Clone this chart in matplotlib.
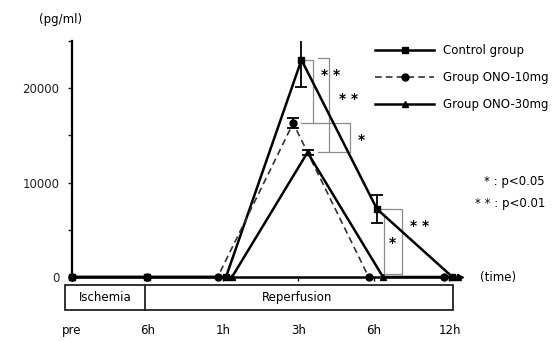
import matplotlib.pyplot as plt
from matplotlib.patches import Rectangle
from matplotlib.lines import Line2D

# time points and serum levels (pg/ml)
times = ["pre", "6h", "1h", "3h", "6h", "12h"]
control = [0, 0, 0, 23000, 7200, 0]
control_err = [0, 0, 0, 2900, 1450, 0]
ono10 = [0, 0, 0, 16300, 0, 0]
ono10_err = [0, 0, 0, 500, 0, 0]
ono30 = [0, 0, 0, 13200, 0, 0]
ono30_err = [0, 0, 0, 300, 0, 0]

plt.rcParams['font.family'] = ['DejaVu Sans']
plt.rcParams['font.size'] = 8.5

fig = plt.figure(figsize=(5.6, 3.41), dpi=100)
ax = fig.add_axes([72 / 560, 64 / 341, 388 / 560, 236 / 341])


def xpos(off):
    # groups are drawn slightly apart once reperfusion starts
    return [i + (off if i >= 2 else 0) for i in range(len(times))]


series = [
    ("Control group", control, control_err, 0.04, "s", "-", 1.8, "black"),
    ("Group ONO-10mg", ono10, ono10_err, -0.07, "o", (0, (4, 2.5)), 1.2, "#333333"),
    ("Group ONO-30mg", ono30, ono30_err, 0.12, "^", "-", 1.8, "black"),
]

handles = []
for label, vals, errs, off, mk, ls, lw, col in series:
    xs = xpos(off)
    ax.plot(xs, vals, color=col, ls=ls, lw=lw, marker=mk, ms=5,
            mfc="black", mec="black", clip_on=False, zorder=3)
    ex = [x for x, e in zip(xs, errs) if e > 0]
    ey = [v for v, e in zip(vals, errs) if e > 0]
    ee = [e for e in errs if e > 0]
    ax.errorbar(ex, ey, yerr=ee, fmt="none", ecolor="black", elinewidth=1.3,
                capsize=4, capthick=1.3, zorder=3)
    handles.append(Line2D([], [], color=col, ls=ls, lw=lw, marker=mk, ms=5,
                          mfc="black", mec="black", label=label))

ax.set_xlim(0, 5.14)
ax.set_ylim(0, 25000)
ax.spines["top"].set_visible(False)
ax.spines["right"].set_visible(False)
ax.spines["left"].set_linewidth(1.6)
ax.spines["bottom"].set_linewidth(1.8)
ax.plot(1, 0, ">", color="black", ms=5, transform=ax.transAxes, clip_on=False)

ax.set_yticks([0, 10000, 20000])
ax.set_yticks([5000, 15000, 25000], minor=True)
ax.tick_params(axis="y", which="both", direction="out", length=3, width=1, pad=6,
               labelsize=8.5, colors="#222222")
ax.set_xticks(range(len(times)))
ax.set_xticklabels(times)
ax.tick_params(axis="x", direction="out", length=3, width=1, pad=31, labelsize=8.5)

fig.text(61 / 560, 1 - 20 / 341, "(pg/ml)", ha="center", va="center", fontsize=8.5)
fig.text(480 / 560, 1 - 278 / 341, "(time)", ha="left", va="center", fontsize=8.5)

# ischemia / reperfusion bar under the axis
tr = ax.get_xaxis_transform()
ax.add_patch(Rectangle((-0.09, -0.14), 5.14, 0.106, transform=tr, fill=False,
                       lw=1.3, ec="#222222", clip_on=False))
ax.plot([0.97, 0.97], [-0.14, -0.034], transform=tr, color="#222222", lw=1.3,
        clip_on=False)
ax.text(0.44, -0.087, "Ischemia", transform=tr, ha="center", va="center", fontsize=8.5)
ax.text(2.98, -0.087, "Reperfusion", transform=tr, ha="center", va="center", fontsize=8.5)

# significance brackets
gray = "#8c8c8c"
c3, t3, h3 = control[3], ono10[3], ono30[3]
ax.plot([3.09, 3.19, 3.19], [c3, c3, t3], color=gray, lw=0.9)
ax.plot([3.03, 3.68, 3.68], [t3, t3, h3], color=gray, lw=0.9)
ax.plot([3.26, 3.40, 3.40], [c3 + 200, c3 + 200, h3], color=gray, lw=0.9)
ax.plot([3.26, 3.68], [h3, h3], color=gray, lw=0.9)
ax.text(3.42, 21400, "* *", ha="center", va="center", fontsize=10, fontweight="bold")
ax.text(3.66, 18900, "* *", ha="center", va="center", fontsize=10, fontweight="bold")
ax.text(3.83, 14500, "*", ha="center", va="center", fontsize=10, fontweight="bold")

c6 = control[4]
ax.plot([4.06, 4.37, 4.37], [c6, c6, 300], color=gray, lw=0.9)
ax.plot([4.13, 4.13, 4.37], [c6 - 500, 300, 300], color=gray, lw=0.9)
ax.text(4.25, 3600, "*", ha="center", va="center", fontsize=10, fontweight="bold")
ax.text(4.61, 5400, "* *", ha="center", va="center", fontsize=10, fontweight="bold")

fig.text(545 / 560, 1 - 182 / 341, "* : p<0.05", ha="right", va="center", fontsize=8.5)
fig.text(545 / 560, 1 - 203 / 341, "* * : p<0.01", ha="right", va="center", fontsize=8.5)

fig.legend(handles=handles, loc="upper left", bbox_to_anchor=(375 / 560, 1 - 44 / 341),
           frameon=False, handlelength=5, handletextpad=0.8, labelspacing=1.2,
           borderpad=0, borderaxespad=0, fontsize=8.5)

fig.savefig("out.png", dpi=100)
